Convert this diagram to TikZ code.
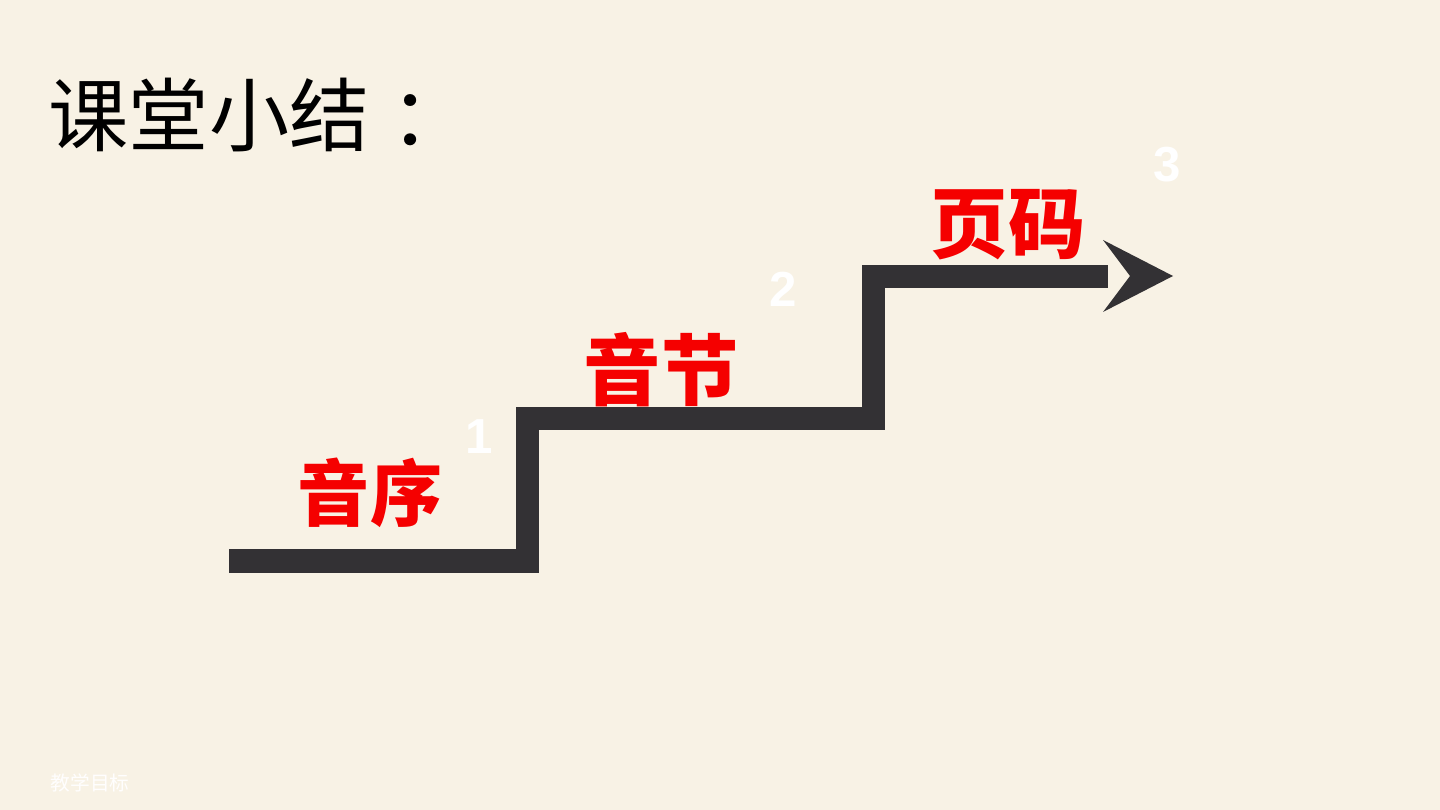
\documentclass[tikz,border=0pt]{standalone}
\usepackage{fontspec}
\setmainfont{Liberation Sans}
\newfontfamily\cjk{Noto Sans CJK SC}
\usetikzlibrary{positioning}
\definecolor{bgcream}{HTML}{F8F2E5}
\definecolor{stairgray}{HTML}{333134}
\definecolor{labelred}{HTML}{F50000}
\tikzstyle{stair} = [draw=stairgray, line width=0.23cm, line cap=butt, line join=miter]
\tikzstyle{tipfill} = [fill=stairgray, draw=none]
\tikzstyle{rednode} = [text=labelred, inner sep=0pt, font=\cjk\bfseries\fontsize{22}{22}\selectfont]
\tikzstyle{numnode} = [text=white, inner sep=0pt, font=\bfseries\fontsize{14}{14}\selectfont]

\begin{document}
\begin{tikzpicture}[x=0.01cm, y=-0.01cm]
				\fill [bgcream] (0,0) rectangle (1440,810);
				\useasboundingbox (0,0) rectangle (1440,810);

				\node [inner sep=0pt, anchor=west, font=\cjk\fontsize{22.8}{22.8}\selectfont] (title) at (48,115) {课堂小结\kern0.26em ：};

				\coordinate (s0) at (229,561);
				\coordinate (s1) at (527.5,561);
				\coordinate (s2) at (527.5,418.5);
				\coordinate (s3) at (873.5,418.5);
				\coordinate (s4) at (873.5,276.5);
				\coordinate (s5) at (1108,276.5);
				\coordinate (tip) at (1173,276);
				\coordinate (barbup) at (1103,240);
				\coordinate (notch) at (1130,276);
				\coordinate (barbdown) at (1103,312);

				\path [stair] (s0) -- (s1) -- (s2) -- (s3) -- (s4) -- (s5);
				\path [tipfill] (barbup) -- (tip) -- (barbdown) -- (notch) -- cycle;

				\node [rednode, font=\cjk\bfseries\fontsize{20.5}{20.5}\selectfont] (yinxu) at (370,493) {音序};
				\node [rednode] (yinjie) at (661,370) {音节};
				\node [rednode] (yema) at (1008,225) {页码};

				\node [numnode] (n1) at (479,437) {1};
				\node [numnode] (n2) at (783,289) {2};
				\node [numnode] (n3) at (1167,165) {3};

				\node [inner sep=0pt, anchor=west, text=white!96!bgcream, font=\cjk\fontsize{5.6}{5.6}\selectfont] (footer) at (50,783) {教学目标};
			\end{tikzpicture}
\end{document}
